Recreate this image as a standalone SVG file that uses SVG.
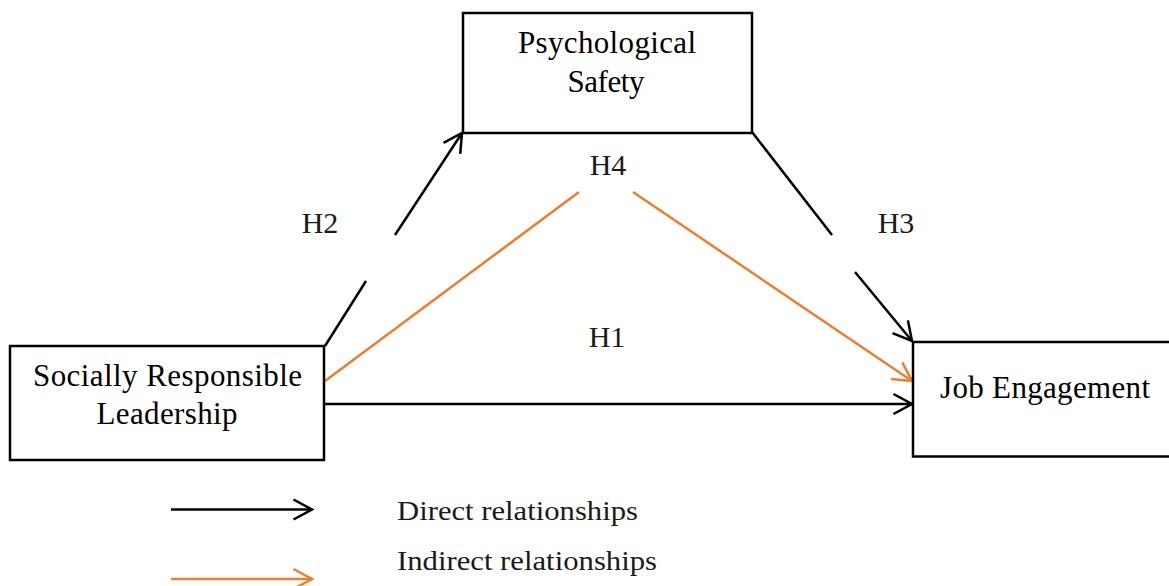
<svg xmlns="http://www.w3.org/2000/svg" width="1169" height="586" viewBox="0 0 1169 586">
<style>
.box{fill:#fff;stroke:#000;stroke-width:2.5}
.t{font-family:"Liberation Serif","Times New Roman",serif;font-size:31px;fill:#000;text-anchor:middle}
.lbl{font-family:"Liberation Serif","Times New Roman",serif;font-size:30px;fill:#1a1a1a;text-anchor:middle}
.leg{font-family:"Liberation Serif","Times New Roman",serif;font-size:28px;fill:#1a1a1a}
.blk{stroke:#000;stroke-width:2.5;fill:none}
.org{stroke:#ED7D31;stroke-width:2.5;fill:none}
</style>
<defs>
<marker id="ab" markerUnits="userSpaceOnUse" markerWidth="30" markerHeight="30" viewBox="-25 -15 30 30" refX="0" refY="0" orient="auto" overflow="visible">
<path d="M-18.5,-10 L0,0 L-18.5,10" fill="none" stroke="#000" stroke-width="2.5"/>
</marker>
<marker id="ao" markerUnits="userSpaceOnUse" markerWidth="30" markerHeight="30" viewBox="-25 -15 30 30" refX="0" refY="0" orient="auto" overflow="visible">
<path d="M-18.5,-10 L0,0 L-18.5,10" fill="none" stroke="#ED7D31" stroke-width="2.5"/>
</marker>
</defs>

<g id="connectors">
<line class="blk" x1="325" y1="346" x2="366" y2="281"/>
<line class="blk" x1="395" y1="235" x2="462" y2="133" marker-end="url(#ab)"/>
<line class="blk" x1="752" y1="132" x2="832" y2="235"/>
<line class="blk" x1="855" y1="272" x2="912" y2="341" marker-end="url(#ab)"/>
<line class="blk" x1="325" y1="404" x2="912" y2="404" marker-end="url(#ab)"/>
<line class="org" x1="325" y1="381" x2="579" y2="192"/>
<line class="org" x1="633" y1="192" x2="912" y2="381" marker-end="url(#ao)"/>
<text class="lbl" x="320" y="233">H2</text>
<text class="lbl" x="896" y="233">H3</text>
<text class="lbl" x="608" y="175">H4</text>
<text class="lbl" x="607" y="347">H1</text>
</g>

<g id="psychological-safety">
<rect class="box" x="463" y="13" width="289" height="120"/>
<text class="t" x="607" y="52.5" textLength="178">Psychological</text>
<text class="t" x="606" y="91.5" textLength="77">Safety</text>
</g>

<g id="socially-responsible-leadership">
<rect class="box" x="10" y="346" width="314" height="114"/>
<text class="t" x="167.5" y="385.5" textLength="269">Socially Responsible</text>
<text class="t" x="167" y="424" textLength="141">Leadership</text>
</g>

<g id="job-engagement">
<rect class="box" x="913" y="342" width="270" height="114.5"/>
<text class="t" x="1045" y="398" textLength="210">Job Engagement</text>
</g>

<g id="legend">
<line class="blk" x1="171" y1="509.5" x2="312" y2="509.5" marker-end="url(#ab)"/>
<text class="leg" x="397" y="519.5" textLength="241" lengthAdjust="spacingAndGlyphs">Direct relationships</text>
<line class="org" x1="171" y1="579" x2="312" y2="579" marker-end="url(#ao)"/>
<text class="leg" x="397" y="570" textLength="260" lengthAdjust="spacingAndGlyphs">Indirect relationships</text>
</g>
</svg>
